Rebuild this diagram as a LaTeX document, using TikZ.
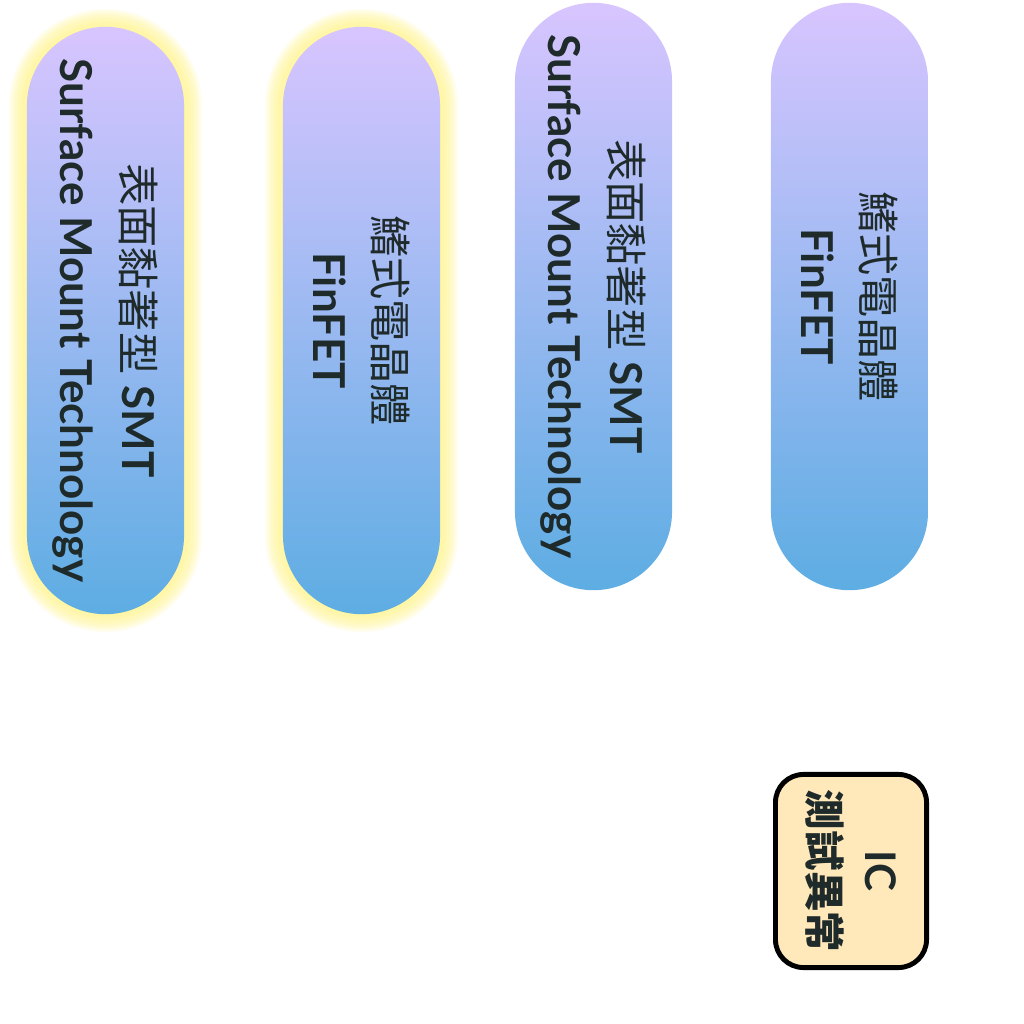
\documentclass[tikz,border=0pt]{standalone}
\usepackage{fontspec}
\setmainfont{Lato}
\newfontfamily\cjk[Scale=0.96]{Noto Sans CJK TC}
\usetikzlibrary{positioning}

\definecolor{pilltop}{HTML}{D8C5FF}
\definecolor{pillbot}{HTML}{5DADE3}
\definecolor{glowyel}{HTML}{FFF38A}
\definecolor{icfill}{HTML}{FFE8BA}
\definecolor{inkdark}{HTML}{1F2A2A}

\tikzset{
  pill/.style={rectangle, rounded corners=7.85mm, minimum width=15.7mm,
    minimum height=58.7mm, top color=pilltop, bottom color=pillbot, inner sep=0pt},
  pilltext/.style={rotate=-90, align=center, text=inkdark, inner sep=0pt,
    font=\fontsize{12.5}{17.5}\selectfont},
  icbox/.style={rectangle, rounded corners=2.8mm, minimum width=15.1mm,
    minimum height=19.3mm, fill=icfill, draw=black, line width=1.4pt, inner sep=0pt}
}

\begin{document}
\begin{tikzpicture}[x=0.01cm, y=-0.01cm]
  \useasboundingbox (0,0) rectangle (1024,1024);

  % yellow glow behind the two highlighted pills
  \foreach \px in {27,283}{
    \foreach \g in {1,...,9}{
      \pgfmathsetmacro{\rr}{0.785+0.02*\g}
      \fill[glowyel, opacity=0.15, rounded corners=\rr cm]
        (\px-2*\g, 27-2*\g) rectangle (\px+157+2*\g, 614+2*\g);
    }
  }

  \node[pill] (smtglow) at (105.5,320.5) {};
  \node[pill] (finglow) at (361.5,320.5) {};
  \node[pill] (smt) at (593.5,296.5) {};
  \node[pill] (fin) at (849.5,296.5) {};

  \node[pilltext] (smtglowtxt) at (smtglow) {{\cjk 表面黏著型} \textbf{SMT}\\\textbf{Surface Mount Technology}};
  \node[pilltext] (finglowtxt) at (finglow) {{\cjk 鰭式電晶體}\\\textbf{FinFET}};
  \node[pilltext] (smttxt) at (smt) {{\cjk 表面黏著型} \textbf{SMT}\\\textbf{Surface Mount Technology}};
  \node[pilltext] (fintxt) at (fin) {{\cjk 鰭式電晶體}\\\textbf{FinFET}};

  % test fault box
  \node[icbox] (icfault) at (851,871) {};
  \node[pilltext, font=\fontsize{12}{16}\selectfont] (icfaulttxt) at (icfault) {\textbf{IC}\\{\cjk\bfseries 測試異常}};
\end{tikzpicture}
\end{document}
